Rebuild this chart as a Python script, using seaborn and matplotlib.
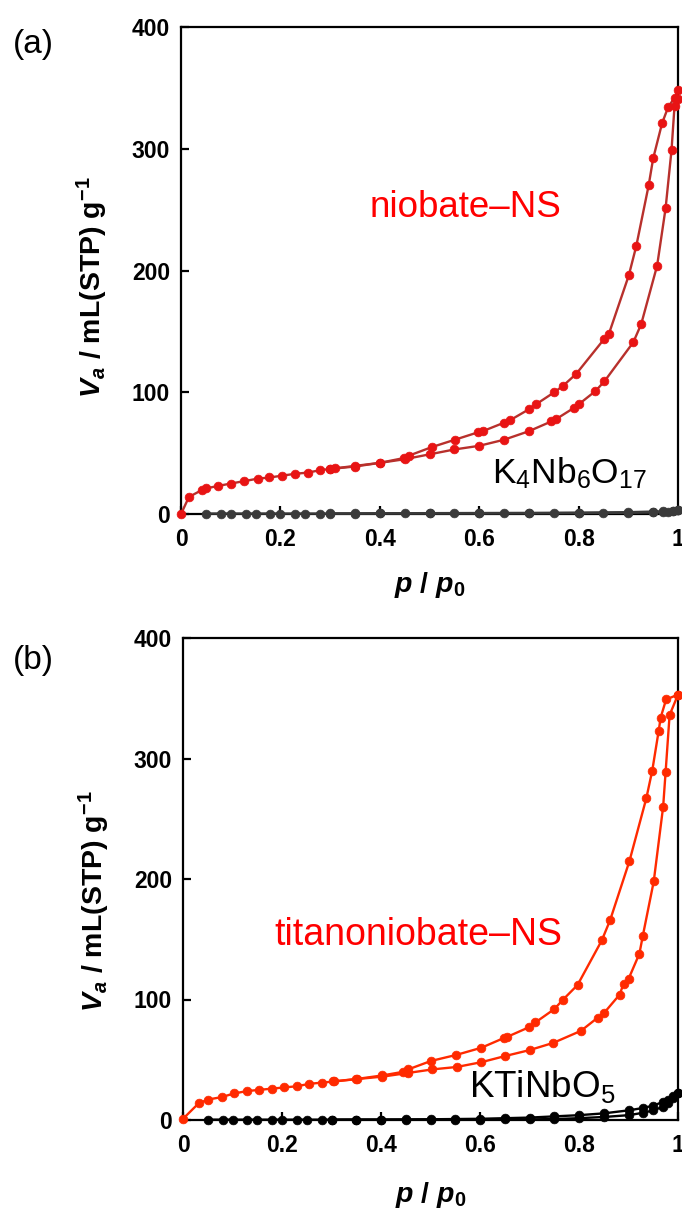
import matplotlib
matplotlib.use("Agg")
import matplotlib.pyplot as plt
import seaborn as sns
import pandas as pd

# ---------------- data ----------------
# (a) niobate-NS
nb_ads_p = [0, 0.016, 0.042, 0.05, 0.074, 0.10, 0.127, 0.154, 0.178, 0.204, 0.229, 0.255, 0.28, 0.30,
            0.35, 0.40, 0.45, 0.50, 0.55, 0.60, 0.65, 0.70, 0.745, 0.755, 0.79, 0.80, 0.834, 0.852,
            0.91, 0.926, 0.958, 0.975, 0.987, 0.993, 1.0]
nb_ads_v = [0, 14, 19.7, 21, 23, 25, 27, 29, 30, 31.5, 33, 34, 36, 37,
            39, 42, 45, 49, 53, 56, 61, 68, 76, 78, 87, 90, 101, 109,
            141, 156, 204, 251, 299, 335, 341]
nb_des_p = [1.0, 0.993, 0.98, 0.968, 0.95, 0.941, 0.916, 0.901, 0.861, 0.852, 0.795, 0.768, 0.751,
            0.714, 0.70, 0.662, 0.65, 0.607, 0.597, 0.551, 0.505, 0.459, 0.449, 0.40, 0.35, 0.31, 0.30]
nb_des_v = [348, 342, 334, 321, 292, 270, 220, 196, 148, 144, 115, 105, 100,
            90, 86, 77, 75, 68, 67, 61, 55, 48, 46, 42, 39.5, 37.5, 37]

# (a) K4Nb6O17
k4_ads_p = [0.05, 0.08, 0.10, 0.13, 0.15, 0.18, 0.20, 0.23, 0.25, 0.28, 0.30, 0.35, 0.40, 0.45, 0.50,
            0.55, 0.60, 0.65, 0.70, 0.75, 0.80, 0.85, 0.90, 0.95, 0.97, 0.98, 0.99, 1.0]
k4_ads_v = [0.4, 0.4, 0.4, 0.4, 0.4, 0.4, 0.4, 0.4, 0.4, 0.4, 0.4, 0.4, 0.5, 0.5, 0.5,
            0.5, 0.5, 0.6, 0.6, 0.7, 0.8, 0.9, 1.0, 1.3, 1.6, 2.0, 2.5, 3.0]
k4_des_p = [1.0, 0.99, 0.97, 0.95, 0.90, 0.80, 0.70, 0.60, 0.50, 0.40, 0.35, 0.30]
k4_des_v = [3.0, 2.8, 2.3, 2.0, 1.5, 1.1, 0.9, 0.8, 0.7, 0.6, 0.5, 0.5]

# (b) titanoniobate-NS
tn_ads_p = [0, 0.032, 0.051, 0.078, 0.103, 0.129, 0.154, 0.179, 0.204, 0.23, 0.255, 0.28, 0.306,
            0.352, 0.403, 0.454, 0.504, 0.553, 0.603, 0.65, 0.70, 0.748, 0.804, 0.838, 0.851,
            0.882, 0.89, 0.90, 0.922, 0.929, 0.951, 0.97, 0.975, 0.983, 1.0]
tn_ads_v = [1, 14, 17, 19, 22, 24, 25, 26, 27, 28, 30, 31, 32,
            34, 36, 39, 42, 44, 48, 53, 58, 64, 74, 85, 89,
            104, 113, 117, 138, 153, 198, 260, 289, 336, 353]
tn_des_p = [1.0, 0.976, 0.965, 0.961, 0.948, 0.936, 0.902, 0.863, 0.846, 0.797, 0.768, 0.75, 0.712,
            0.699, 0.655, 0.648, 0.603, 0.552, 0.501, 0.455, 0.445, 0.403, 0.35, 0.303]
tn_des_v = [353, 349, 334, 323, 290, 267, 215, 166, 149, 112, 100, 92, 81,
            77, 69, 68, 60, 54, 49, 42, 40, 37, 34, 32]

# (b) KTiNbO5
kt_ads_p = [0.05, 0.08, 0.10, 0.13, 0.15, 0.18, 0.20, 0.23, 0.25, 0.28, 0.30, 0.35, 0.40, 0.45, 0.50,
            0.55, 0.60, 0.65, 0.70, 0.75, 0.80, 0.85, 0.90, 0.93, 0.95, 0.97, 0.98, 0.99, 1.0]
kt_ads_v = [0.3, 0.3, 0.3, 0.3, 0.3, 0.3, 0.3, 0.3, 0.3, 0.3, 0.3, 0.3, 0.3, 0.3, 0.4,
            0.4, 0.4, 0.5, 0.5, 0.8, 1.5, 2.5, 4, 6, 8, 11, 14, 18, 22]
kt_des_p = [1.0, 0.99, 0.98, 0.97, 0.95, 0.93, 0.90, 0.85, 0.80, 0.75, 0.70, 0.65, 0.60, 0.55,
            0.50, 0.45, 0.40, 0.35, 0.30]
kt_des_v = [22, 20, 17, 15, 12, 10, 8, 5.5, 4, 3, 2, 1.5, 1, 0.8, 0.6, 0.5, 0.4, 0.4, 0.3]

x_ticks = [0, 0.2, 0.4, 0.6, 0.8, 1.0]
x_tick_labels = ["0", "0.2", "0.4", "0.6", "0.8", "1"]
y_ticks = [0, 100, 200, 300, 400]
y_tick_labels = ["0", "100", "200", "300", "400"]

# ---------------- style ----------------
sns.set_style("white")
plt.rcParams["font.family"] = ["Liberation Sans", "DejaVu Sans"]
plt.rcParams["text.color"] = "black"
plt.rcParams["axes.labelcolor"] = "black"
plt.rcParams["xtick.color"] = "black"
plt.rcParams["ytick.color"] = "black"
plt.rcParams["mathtext.fontset"] = "custom"
plt.rcParams["mathtext.rm"] = "Liberation Sans"
plt.rcParams["mathtext.it"] = "Liberation Sans:italic"
plt.rcParams["mathtext.bf"] = "Liberation Sans:bold"
plt.rcParams["mathtext.bfit"] = "Liberation Sans:bold:italic"

W, H = 682, 1211
fig = plt.figure(figsize=(W / 100, H / 100), dpi=100)
ax1 = fig.add_axes([181 / W, 1 - 514 / H, 497 / W, 487 / H])
ax2 = fig.add_axes([183 / W, 1 - 1120 / H, 495 / W, 482 / H])


def branch(ax, p, v, line_color, marker_color):
    df = pd.DataFrame({"p": p, "v": v})
    sns.lineplot(data=df, x="p", y="v", ax=ax, sort=False, estimator=None,
                 color=line_color, lw=1.7, marker="o", markersize=6.3,
                 markerfacecolor=marker_color, markeredgecolor=marker_color,
                 markeredgewidth=0.5, clip_on=False, zorder=3)


branch(ax1, k4_ads_p, k4_ads_v, "#3a3a3a", "#3a3a3a")
branch(ax1, k4_des_p, k4_des_v, "#3a3a3a", "#3a3a3a")
branch(ax1, nb_ads_p, nb_ads_v, "#b8302c", "#e81414")
branch(ax1, nb_des_p, nb_des_v, "#b8302c", "#e81414")

branch(ax2, kt_ads_p, kt_ads_v, "#000000", "#000000")
branch(ax2, kt_des_p, kt_des_v, "#000000", "#000000")
branch(ax2, tn_ads_p, tn_ads_v, "#ff2a00", "#ff2a00")
branch(ax2, tn_des_p, tn_des_v, "#ff2a00", "#ff2a00")

ylab = r"$\bfit{V}_{\bfit{a}}$ / mL(STP) g$^{\mathbf{-1}}$"
xlab = r"$\bfit{p}$ / $\bfit{p}_{\mathbf{0}}$"

for ax, ylc, xlc in [(ax1, 0.465, -0.146), (ax2, 0.455, -0.156)]:
    ax.set_xlim(0, 1)
    ax.set_ylim(0, 400)
    ax.set_xticks(x_ticks)
    ax.set_xticklabels(x_tick_labels)
    ax.set_yticks(y_ticks)
    ax.set_yticklabels(y_tick_labels)
    for s in ax.spines.values():
        s.set_visible(True)
        s.set_color("black")
        s.set_linewidth(1.6)
    ax.tick_params(axis="both", which="both", direction="in", length=6, width=1.6,
                   color="black", labelcolor="black", labelsize=16.5, bottom=True, left=True,
                   top=False, right=False)
    ax.tick_params(axis="x", pad=10)
    ax.tick_params(axis="y", pad=8)
    for t in ax.get_xticklabels() + ax.get_yticklabels():
        t.set_fontweight("bold")
    ax.set_xlabel(xlab, fontsize=20.5, fontweight="bold", color="black")
    ax.set_ylabel(ylab, fontsize=20.5, fontweight="bold", color="black")
    ax.xaxis.label.set_verticalalignment("center")
    ax.xaxis.set_label_coords(0.5, xlc)
    ax.yaxis.label.set_verticalalignment("center")
    ax.yaxis.set_label_coords(-0.179, ylc)
    ax.grid(False)

ax1.text(0.573, 244, "niobate–NS", color="#ff0000", fontsize=26.5, ha="center", va="baseline")
ax1.text(0.782, 25.5, r"K$_4$Nb$_6$O$_{17}$", color="black", fontsize=25.5, ha="center", va="baseline")
ax2.text(0.475, 145, "titanoniobate–NS", color="#ff0000", fontsize=27, ha="center", va="baseline")
ax2.text(0.725, 19, r"KTiNbO$_5$", color="black", fontsize=26.5, ha="center", va="baseline")

fig.text(33 / W, 1 - 44 / H, "(a)", fontsize=24, ha="center", va="center")
fig.text(33 / W, 1 - 660 / H, "(b)", fontsize=24, ha="center", va="center")

fig.savefig("out.png", dpi=100)
